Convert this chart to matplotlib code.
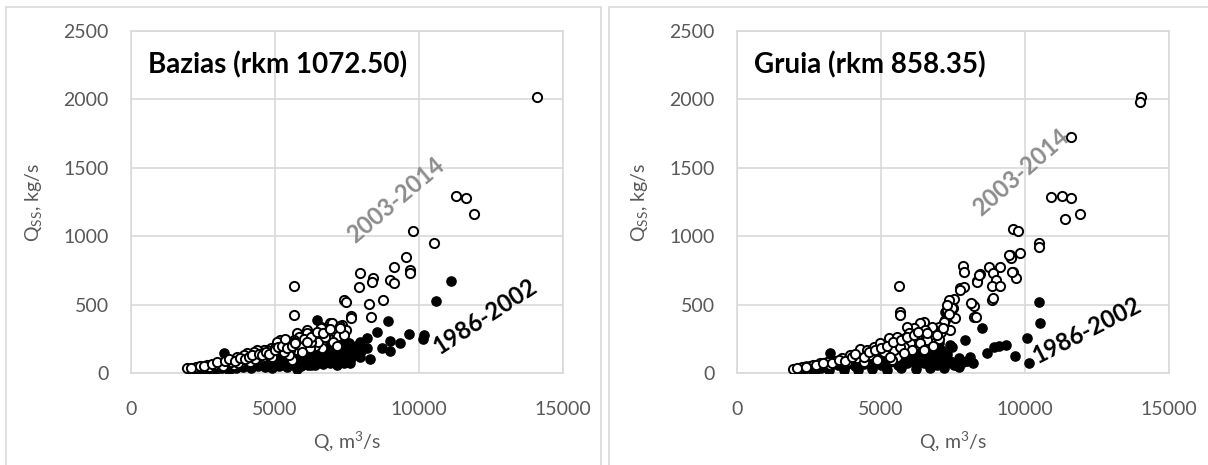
import numpy as np
import matplotlib
matplotlib.use('Agg')
import matplotlib.pyplot as plt
from matplotlib.patches import Rectangle

plt.rcParams['font.family'] = ['Lato', 'DejaVu Sans']

# Bazias (rkm 1072.50), 2003-2014 (open circles)
baz_new_q = [14100, 11300, 11625, 11927, 9798, 10538, 9554, 9149, 9680, 9680,
             7944, 8420, 8374, 9010, 9115, 7900, 7413, 7448, 8767, 8247,
             7645, 7656, 8316, 7333, 7448, 5653, 5677, 6927, 6985, 7274,
             6580, 6580, 6118, 5770, 6118, 6694, 6812, 6347, 6000, 6638,
             5770, 6985, 5596, 5826, 5652, 5538, 5423, 5305, 5190, 5076,
             5190, 4958, 4844, 4729, 4612, 4496, 4382, 4264, 4149, 4034,
             3916, 3802, 3687, 3569, 3455, 3340, 3107, 2993, 2875, 2646,
             2472, 2298, 2240, 1950, 5652, 6347, 7100, 7200, 6800, 6400,
             6200, 5900, 5500, 4300, 4600, 4900, 5300, 3700, 3200, 2700,
             7000, 6500, 7400, 7150, 6750, 6250, 5950, 5450, 5000, 4700,
             2100, 2400, 2550, 2800, 3000, 3250, 3400, 3600, 3800, 3950,
             4100, 4200, 4450, 4550, 4700, 4800, 5000, 5100, 5250, 5400,
             5600, 5700, 6000, 6250, 6450, 6650, 6900, 7250, 6100, 5350]
baz_new_qs = [2020, 1294, 1277, 1162, 1040, 948, 846, 777, 753, 731,
              733, 694, 665, 680, 658, 629, 534, 521, 534, 504,
              417, 400, 409, 351, 314, 636, 424, 363, 363, 344,
              339, 327, 314, 290, 290, 241, 254, 278, 217, 180,
              168, 265, 95, 265, 241, 168, 217, 241, 241, 229,
              168, 144, 180, 168, 168, 156, 168, 156, 83, 144,
              132, 71, 119, 58, 83, 95, 71, 71, 58, 58,
              46, 46, 46, 34, 229, 241, 300, 270, 300, 200,
              180, 200, 130, 100, 120, 120, 150, 70, 50, 45,
              230, 230, 280, 200, 260, 230, 150, 190, 180, 140,
              40, 50, 50, 65, 80, 85, 100, 90, 110, 100,
              120, 130, 140, 130, 150, 140, 170, 190, 200, 180,
              200, 220, 250, 260, 300, 290, 320, 330, 230, 250]

# Bazias, 1986-2002 (filled circles)
baz_old_q = [2050, 2200, 2350, 2450, 2600, 2700, 2800, 2900, 3000, 3100,
             3222, 3250, 3350, 3400, 3500, 3600, 3700, 3750, 3850, 3950,
             4050, 4150, 4250, 4350, 4450, 4550, 4650, 4750, 4850, 4950,
             5050, 5150, 5250, 5350, 5450, 5550, 5650, 5750, 5800, 5900,
             6000, 6100, 6200, 6300, 6465, 6400, 6500, 6600, 6700, 6800,
             6900, 7000, 7100, 7200, 7300, 7350, 7450, 7500, 7562, 7600,
             7968, 7968, 8200, 8547, 8721, 8929, 8986, 9010, 9357, 9646,
             10145, 10166, 10607, 11117, 2150, 2400, 2650, 2900, 3150, 3400,
             3650, 3900, 4150, 4400, 4650, 4900, 5150, 5400, 5650, 5900,
             6150, 6400, 6650, 6900, 7150, 7400, 8200, 8300, 7700, 7800,
             8000, 7300, 7650, 6250, 5600, 2300, 2550, 2750, 3050, 3300,
             3550, 3800, 4000, 4200, 4500, 4800, 5000, 5200, 5500, 5700,
             6050, 6350, 6550, 6750, 6950, 7250, 7400, 5850, 6700, 7050]
baz_old_qs = [25, 30, 35, 45, 40, 55, 45, 60, 50, 70,
              144, 60, 75, 45, 85, 65, 95, 50, 80, 100,
              70, 110, 55, 90, 120, 75, 100, 130, 60, 110,
              140, 85, 120, 150, 70, 130, 100, 30, 160, 120,
              80, 180, 140, 100, 387, 200, 150, 110, 230, 170,
              120, 250, 190, 140, 90, 240, 180, 130, 217, 70,
              229, 115, 258, 302, 185, 383, 236, 163, 217, 283,
              246, 278, 526, 675, 15, 20, 25, 30, 35, 25,
              40, 45, 35, 50, 45, 40, 50, 45, 55, 50,
              60, 55, 65, 70, 60, 75, 180, 100, 150, 200,
              160, 160, 110, 60, 90, 20, 30, 35, 40, 50,
              55, 70, 60, 80, 90, 80, 90, 100, 110, 120,
              130, 150, 180, 140, 170, 200, 250, 70, 90, 110]

# Gruia (rkm 858.35), 2003-2014
gru_new_q = [14024, 13990, 11612, 10916, 11275, 11612, 11391, 11913, 9594, 9754,
             10485, 10485, 9476, 9813, 9500, 7854, 7899, 8745, 9128, 8431,
             8317, 8898, 8978, 9594, 9674, 8864, 9128, 7760, 7876, 7528,
             7354, 8840, 8898, 8168, 8224, 7505, 7298, 7586, 7238, 8246,
             7412, 5613, 5672, 5672, 7470, 7296, 7180, 7006, 6832, 6716,
             6484, 6368, 6136, 6020, 5846, 5672, 5440, 6774, 6542, 6252,
             6020, 5788, 5556, 6600, 6368, 6078, 5556, 5382, 1938, 2251,
             2540, 2888, 3122, 3410, 3643, 3932, 4280, 4514, 4744, 4976,
             5265, 5556, 5906, 5962, 2655, 3236, 3817, 4165, 4628, 5092,
             5440, 5672, 4396, 4860, 5324, 5788, 7000, 6800, 6500, 7100,
             8340, 8398, 9442, 9558, 7760, 8108, 8282, 7354, 2100, 2400,
             2750, 3000, 3300, 3550, 3750, 4000, 4100, 4400, 4600, 4800,
             5000, 5200, 5400, 5700, 5900, 6150, 6300, 6600, 6950, 7150]
gru_new_qs = [2020, 1983, 1727, 1284, 1294, 1277, 1123, 1162, 1050, 1040,
              948, 919, 863, 879, 838, 782, 740, 773, 773, 724,
              672, 729, 680, 740, 692, 636, 636, 619, 631, 539,
              534, 534, 546, 502, 490, 473, 460, 400, 387, 407,
              314, 638, 448, 424, 473, 497, 375, 339, 314, 278,
              375, 363, 327, 290, 254, 229, 217, 339, 314, 265,
              217, 192, 168, 241, 217, 168, 119, 95, 29, 42,
              51, 71, 83, 88, 107, 132, 173, 168, 192, 217,
              254, 265, 339, 290, 58, 58, 83, 107, 132, 156,
              168, 192, 83, 95, 119, 144, 250, 200, 170, 300,
              667, 716, 863, 740, 607, 510, 412, 430, 35, 45,
              60, 75, 70, 95, 90, 115, 140, 120, 150, 170,
              180, 200, 230, 240, 260, 280, 300, 290, 280, 330]

# Gruia, 1986-2002
gru_old_q = [10485, 10510, 8515, 7934, 10081, 10137, 9640, 8689, 8920, 9094,
             9326, 7238, 7412, 7470, 3236, 2000, 2150, 2300, 2450, 2600,
             2750, 2900, 3050, 3200, 3350, 3500, 3650, 3800, 3950, 4100,
             4250, 4400, 4550, 4700, 4850, 5000, 5150, 5300, 5450, 5600,
             5750, 5900, 6050, 6200, 6350, 6500, 6650, 6800, 6950, 7100,
             7250, 7400, 7550, 7700, 7850, 8000, 8200, 2200, 2700, 3200,
             3700, 4200, 4700, 5200, 5700, 6200, 6700, 7200, 7700, 8100,
             6900, 6300, 5800, 6600, 7100, 6400, 6000, 5500, 7000, 7300,
             2400, 2900, 3400, 3900, 4400, 4900, 5400, 5900, 6450, 6850]
gru_old_qs = [521, 363, 327, 241, 254, 71, 124, 144, 192, 197,
              202, 448, 205, 192, 144, 20, 30, 25, 40, 30,
              50, 40, 60, 45, 70, 55, 75, 60, 85, 50,
              90, 65, 100, 70, 110, 60, 120, 80, 110, 60,
              90, 70, 100, 60, 90, 70, 110, 80, 60, 100,
              70, 90, 60, 110, 80, 90, 70, 10, 15, 20,
              25, 20, 30, 25, 35, 30, 40, 35, 45, 120,
              150, 140, 130, 180, 170, 150, 130, 100, 220, 140,
              50, 60, 80, 70, 100, 90, 130, 110, 120, 130]

panels = [
    ('Bazias (rkm 1072.50)', baz_new_q, baz_new_qs, baz_old_q, baz_old_qs,
     (9184, 1265, 40), (12309, 417, 33)),
    ('Gruia (rkm 858.35)', gru_new_q, gru_new_qs, gru_old_q, gru_old_qs,
     (9849, 1469, 41), (12146, 314, 27)),
]

fig = plt.figure(figsize=(12.08, 4.65), dpi=100)

# chart frames
fig.add_artist(Rectangle((6 / 1208, -0.1), 595 / 1208, 1.1 - 7 / 465,
                         transform=fig.transFigure, fill=False,
                         ec='#d9d9d9', lw=1.2))
fig.add_artist(Rectangle((609 / 1208, -0.1), 0.6, 1.1 - 7 / 465,
                         transform=fig.transFigure, fill=False,
                         ec='#d9d9d9', lw=1.2))

lefts = [131 / 1208, 737 / 1208]
grey = '#595959'

for left, (title, nq, nqs, oq, oqs, lab_new, lab_old) in zip(lefts, panels):
    ax = fig.add_axes([left, 92 / 465, 432 / 1208, 342 / 465])
    ax.scatter(oq, oqs, s=44, c='black', edgecolors='black', linewidths=1.0, zorder=3)
    ax.scatter(nq, nqs, s=44, c='white', edgecolors='black', linewidths=1.4, zorder=4)
    ax.set_xlim(0, 15000)
    ax.set_ylim(0, 2500)
    ax.set_xticks([0, 5000, 10000, 15000])
    ax.set_yticks([0, 500, 1000, 1500, 2000, 2500])
    ax.grid(True, color='#d9d9d9', lw=1.2, zorder=0)
    ax.set_axisbelow(True)
    for sp in ax.spines.values():
        sp.set_color('#d9d9d9')
        sp.set_linewidth(1.2)
    ax.tick_params(length=0, labelsize=14, labelcolor=grey)
    ax.tick_params(axis='x', pad=20)
    ax.tick_params(axis='y', pad=16)
    ax.set_xlabel(r'Q, m$^\mathregular{3}$/s', fontsize=14, color=grey)
    ax.set_ylabel(r'Q$_\mathregular{SS}$, kg/s', fontsize=14, color=grey)
    ax.xaxis.set_label_coords(0.5, -0.165)
    ax.yaxis.set_label_coords(-0.198, 0.5)
    ax.text(0.04, 0.9, title, transform=ax.transAxes, fontsize=20,
            fontweight='bold', va='center', ha='left', color='black')
    ax.text(lab_new[0], lab_new[1], '2003-2014', rotation=lab_new[2],
            fontsize=17, fontweight='bold', color='#8c8c8c',
            ha='center', va='center', rotation_mode='anchor', zorder=5)
    ax.text(lab_old[0], lab_old[1], '1986-2002', rotation=lab_old[2],
            fontsize=17, fontweight='bold', color='black',
            ha='center', va='center', rotation_mode='anchor', zorder=5)

fig.savefig('out.png', dpi=100)
